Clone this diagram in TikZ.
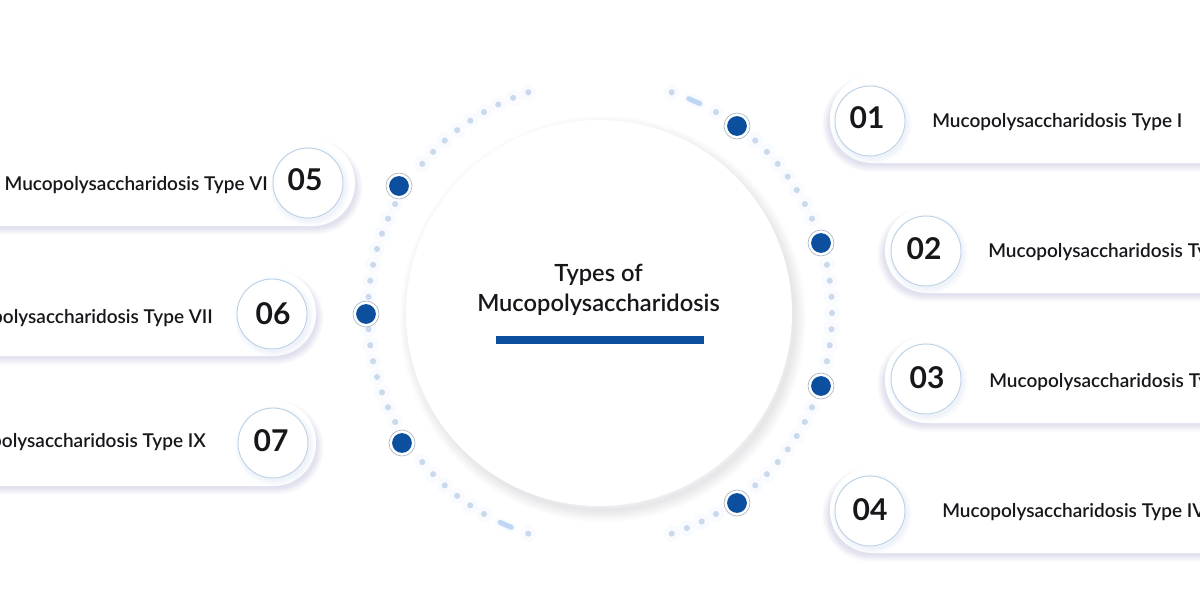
\documentclass[tikz,border=0pt]{standalone}
\usepackage{fontspec}
\setmainfont{Lato}
\newfontfamily\medf{Lato Semibold}
\newfontfamily\numf{Lato Bold}
\definecolor{navy}{HTML}{0B4F9E}
\definecolor{dotc}{HTML}{CADAEC}
\definecolor{haloc}{HTML}{F9FBFE}
\definecolor{dashc}{HTML}{BFD7F5}
\definecolor{ringc}{HTML}{BDD2E6}
\definecolor{shadc}{HTML}{8F90B0}
\definecolor{blueshad}{HTML}{8FB4E0}
\definecolor{inkc}{HTML}{17171B}
\tikzset{
  x=0.75pt,y=-0.75pt,
  softa/.style={draw=shadc,draw opacity=0.012,fill=none},
  softb/.style={draw=blueshad,draw opacity=0.018,fill=none},
  softc/.style={draw=shadc,draw opacity=0.016,fill=none},
  numcircle/.style={circle,draw=ringc,line width=0.7pt,fill=white,minimum size=52.5pt,inner sep=0pt},
  numtext/.style={inner sep=0pt,font=\numf\fontsize{22.5pt}{26pt}\selectfont,text=inkc},
  cardtext/.style={inner sep=0pt,font=\medf\fontsize{14.25pt}{17pt}\selectfont,text=inkc},
  titletext/.style={align=center,inner sep=0pt,font=\medf\fontsize{17.75pt}{22.5pt}\selectfont,text=inkc},
  hub/.style={circle,draw=ringc!65!gray,line width=0.5pt,fill=white,minimum size=19.5pt,inner sep=0pt},
  hubcore/.style={circle,fill=navy,minimum size=14.8pt,inner sep=0pt},
  ringdot/.style={circle,fill=dotc,minimum size=4.6pt,inner sep=0pt},
  halodot/.style={circle,fill=haloc,minimum size=12pt,inner sep=0pt},
}
\newcommand{\softcard}[4]{% x1 y1 x2 y2
  \foreach \w in {1,2,...,16}{
    \draw[softa,line width=\w*0.75pt,rounded corners=30pt] (#1,#2+8) rectangle (#3,#4+1);
  }
  \fill[white,rounded corners=32pt] (#1,#2) rectangle (#3,#4);
}
\newcommand{\softdisc}[3]{% x y r
  \foreach \w in {2,4,...,24}{
    \draw[softc,line width=\w*0.75pt] (#1+4,#2+6) circle[radius=#3-2];
  }
}
\newcommand{\softnum}[2]{%
  \foreach \w in {2,4,...,12}{
    \draw[softb,line width=\w*0.75pt] (#1+2,#2+3) circle[radius=34];
  }
}
\newcommand{\dotlist}{72/a,60/b,48/c,44/d,40/e,36/f,32/g,28/h,24/i,12/j,8/k,4/l,0/m,-4/n,-8/o,-12/p,-24/q,-28/r,-32/s,-36/t,-40/u,-44/v,-48/w,-60/x,-64/y,-68/z,-72/aa,108/ab,112/ac,116/ad,120/ae,124/af,128/ag,132/ah,136/ai,140/aj,152/ak,156/al,160/am,164/an,168/ao,172/ap,176/aq,184/ar,188/as,192/at,196/au,200/av,204/aw,208/ax,220/ay,224/az,228/ba,232/bb,236/bc,240/bd,252/be}
\begin{document}
\begin{tikzpicture}
\useasboundingbox (0,0) rectangle (1200,600);
\clip (0,0) rectangle (1200,600);
\fill[white] (0,0) rectangle (1200,600);
% cards
\softcard{830}{76}{1300}{163}
\softcard{885}{207}{1300}{293}
\softcard{885}{336}{1300}{423}
\softcard{830}{467}{1300}{553}
\softcard{-100}{140}{355}{226}
\softcard{-100}{270}{316}{356}
\softcard{-100}{400}{316}{486}
% ring dots
\foreach \a/\n in \dotlist{
  \node[halodot] (halo\n) at ({600+232*cos(\a)},{313-232*sin(\a)}) {};
}
\foreach \a/\n in \dotlist{
  \node[ringdot] (dot\n) at ({600+232*cos(\a)},{313-232*sin(\a)}) {};
}
\draw[haloc,line width=8pt,line cap=round] ({600+232*cos(67.5)},{313-232*sin(67.5)}) -- ({600+232*cos(64.5)},{313-232*sin(64.5)});
\draw[haloc,line width=8pt,line cap=round] ({600+232*cos(244.5)},{313-232*sin(244.5)}) -- ({600+232*cos(247.5)},{313-232*sin(247.5)});
\draw[dashc,line width=3.8pt,line cap=round] ({600+232*cos(67.5)},{313-232*sin(67.5)}) -- ({600+232*cos(64.5)},{313-232*sin(64.5)});
\draw[dashc,line width=3.8pt,line cap=round] ({600+232*cos(244.5)},{313-232*sin(244.5)}) -- ({600+232*cos(247.5)},{313-232*sin(247.5)});
% central disc
\softdisc{599}{313}{193}
\node[circle,fill=white,minimum size=289.5pt,inner sep=0pt] (centre) at (599,313) {};
\node[titletext] (title) at (598.5,290) {Types of\\Mucopolysaccharidosis};
\node[fill=navy,minimum width=156pt,minimum height=6pt,inner sep=0pt] (bar) at (600,340) {};
% number circles
\softnum{870}{121}
\softnum{926}{251}
\softnum{926}{379}
\softnum{870}{511}
\softnum{308}{183}
\softnum{272}{314}
\softnum{273}{443}
\node[numcircle] (n1) at (870,121) {};
\node[numcircle] (n2) at (926,251) {};
\node[numcircle] (n3) at (926,379) {};
\node[numcircle] (n4) at (870,511) {};
\node[numcircle] (n5) at (308,183) {};
\node[numcircle] (n6) at (272,314) {};
\node[numcircle] (n7) at (273,443) {};
\node[numtext] (d1) at (867,118) {01};
\node[numtext] (d2) at (924,249) {02};
\node[numtext] (d3) at (927,378) {03};
\node[numtext] (d4) at (870,510) {04};
\node[numtext] (d5) at (305,180) {05};
\node[numtext] (d6) at (273,314) {06};
\node[numtext] (d7) at (271,441) {07};
% labels
\node[cardtext,anchor=west] (t1) at (932,122) {Mucopolysaccharidosis Type I};
\node[cardtext,anchor=west] (t2) at (988,252) {Mucopolysaccharidosis Type II};
\node[cardtext,anchor=west] (t3) at (989,382) {Mucopolysaccharidosis Type III};
\node[cardtext,anchor=west] (t4) at (942,512) {Mucopolysaccharidosis Type IV};
\node[cardtext,anchor=east] (t5) at (268,185) {Mucopolysaccharidosis Type VI};
\node[cardtext,anchor=east] (t6) at (213,318) {Mucopolysaccharidosis Type VII};
\node[cardtext,anchor=east] (t7) at (206,442) {Mucopolysaccharidosis Type IX};
% hubs
\foreach \x/\y/\n in {737/126/1,821/243/2,821/386/3,737/503/4,399/186/5,366/314/6,402/443/7}{
  \node[hub] (h\n) at (\x,\y) {};
  \node[hubcore] (c\n) at (\x,\y) {};
}
\end{tikzpicture}
\end{document}
